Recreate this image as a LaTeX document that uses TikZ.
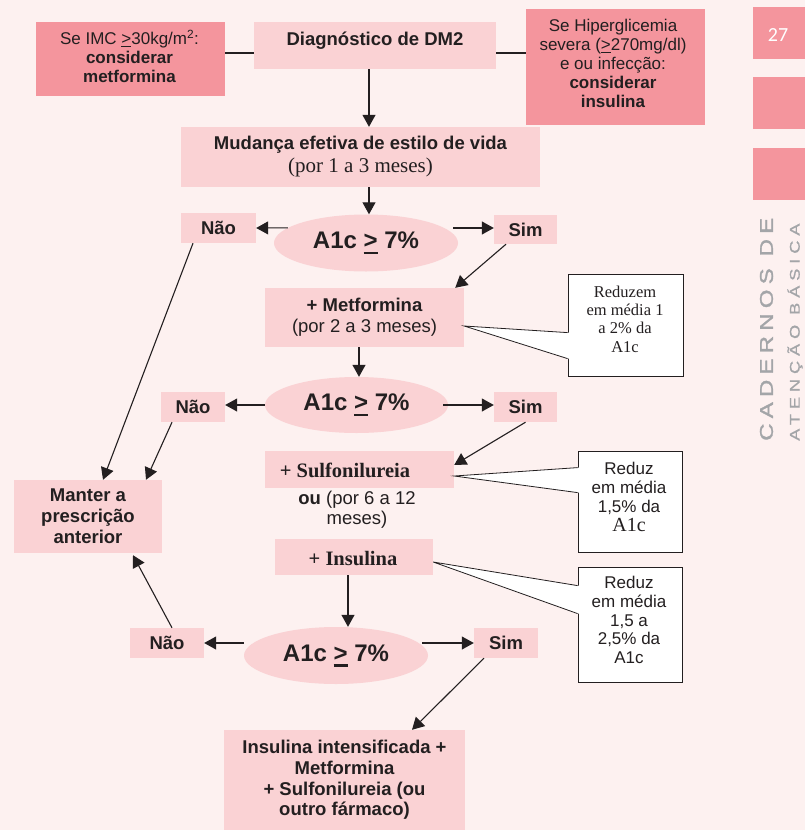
\documentclass[tikz,border=0pt]{standalone}
\usepackage{fontspec}
\setmainfont{Liberation Sans}
\newfontfamily\serifn{Liberation Serif}
\newfontfamily\sidefontA[LetterSpace=28,FakeStretch=1.3,FakeBold=1.5]{Liberation Sans}
\newfontfamily\sidefontB[LetterSpace=35,FakeStretch=1.3,FakeBold=1]{Liberation Sans}
\newfontfamily\numfont{Carlito}
\usetikzlibrary{arrows.meta,shapes.geometric,calc}
\definecolor{bgc}{HTML}{FDF1F0}
\definecolor{boxc}{HTML}{FAD2D4}
\definecolor{redc}{HTML}{F4959D}
\definecolor{ink}{HTML}{231F20}
\definecolor{sidegray}{HTML}{A3A5A8}
\newcommand\geu[2]{\setbox0=\hbox{>}\leavevmode\rlap{\rule[-#1]{\wd0}{#2}}>}
\begin{document}
\begin{tikzpicture}[x=1pt,y=-1pt,
  every node/.style={text=ink, inner sep=0pt, align=center},
  sz/.style 2 args={minimum width=#1, minimum height=#2},
  sansb/.style={font=\fontsize{18.5}{21}\selectfont\bfseries},
  pbox/.style={fill=boxc, sansb},
  redbox/.style={fill=redc},
  redtext/.style={font=\fontsize{17}{18.8}\selectfont},
  serb/.style={font=\serifn\fontsize{20.5}{23}\selectfont\bfseries},
  decision/.style={ellipse, fill=boxc, font=\fontsize{24}{28}\selectfont\bfseries},
  callout/.style={draw=ink, fill=white, line width=0.8pt},
  calline/.style={draw=ink, line width=0.8pt},
  conn/.style={draw=ink, line width=1.1pt},
  arr/.style={conn, -{Triangle[length=12pt,width=13pt]}},
  sidebox/.style={fill=redc, minimum width=52, minimum height=52}
]
\fill[bgc] (0,0) rectangle (805,830);
\useasboundingbox (0,0) rectangle (805,830);

% side bar
\node[sidebox] (s1) at (779,33) {};
\node[sidebox] (s2) at (779,103) {};
\node[sidebox] (s3) at (779,174) {};
\node[text=white, font=\numfont\fontsize{20}{20}\selectfont] (pg) at (778,35) {27};
\node[rotate=90, anchor=west, text=sidegray, font=\sidefontA\fontsize{18.5}{18}\selectfont] (cad) at (766.5,441) {CADERNOS DE};
\node[rotate=90, anchor=west, text=sidegray, font=\sidefontB\fontsize{14}{14}\selectfont] (ab) at (795,441) {ATENÇÃO BÁSICA};

% top row
\node[redbox, sz={189}{74}] (imc) at (130.5,59) {};
\node[redtext] (imct) at (129.5,56) {Se IMC \geu{2.5pt}{1pt}30kg/m\textsuperscript{2}:\\\textbf{considerar}\\\textbf{metformina}};
\node[pbox, sz={242}{47}] (diag) at (375,45.5) {};
\node[sansb] (diagt) at (375,41) {Diagnóstico de DM2};
\node[redbox, sz={179}{116}] (hiper) at (615.5,67) {};
\node[redtext] (hipert) at (613,63.5) {Se Hiperglicemia\\severa (\geu{2.5pt}{1pt}270mg/dl)\\e ou infecção:\\\textbf{considerar}\\\textbf{insulina}};
\coordinate (imcE) at ([yshift=6pt]imc.east);
\draw[conn] (imcE) -- (diag.west |- imcE);
\draw[conn] (diag.east |- imcE) -- (hiper.west |- imcE);

% lifestyle
\node[pbox, sz={359}{60}, font=\fontsize{18.5}{23}\selectfont\bfseries] (muda) at (360.5,157) {Mudança efetiva de estilo de vida\\{\serifn\mdseries\fontsize{21}{23}\selectfont (por 1 a 3 meses)}};
\draw[arr] ([xshift=-6pt]diag.south) -- ([xshift=-6pt]diag.south |- muda.north);

% decision 1
\node[decision, sz={184}{57}] (e1) at (366,243) {A1c \geu{5.5pt}{2.5pt} 7\%};
\draw[arr] ([xshift=8.5pt]muda.south) -- ([xshift=8.5pt]muda.south |- e1.north);
\node[pbox, sz={75}{30}] (nao1) at (218.5,228) {Não};
\node[pbox, sz={63}{29}] (sim1) at (525.5,229.5) {Sim};
\draw[arr] (e1.169) -- (nao1.east);
\draw[arr] ([xshift=-5pt]e1.east |- nao1.east) -- (sim1.west |- nao1.east);

% metformina
\node[pbox, sz={199}{59}] (met) at (364.5,317.5) {+ Metformina\\\mdseries(por 2 a 3 meses)};
\draw[arr] ([xshift=-19.5pt]sim1.south) -- ([xshift=-9pt]met.north east);
\node[callout, sz={115}{102}] (c1) at (625.5,325) {};
\node[font=\serifn\fontsize{16.5}{18.3}\selectfont] (c1t) at (625,319) {Reduzem\\em média 1\\a 2\% da\\A1c};
\coordinate (t1) at ([yshift=-8.5pt]met.east);
\fill[white] (t1) -- ($(c1.north west)+(0,59)$) -- ($(c1.north west)+(1.5,59)$) -- ($(c1.north west)+(1.5,85)$) -- ($(c1.north west)+(0,85)$) -- cycle;
\draw[calline] ($(c1.north west)+(0,59)$) -- (t1) -- ($(c1.north west)+(0,85)$);

% decision 2
\node[decision, sz={183}{56}] (e2) at (356.5,405) {A1c \geu{5.5pt}{2.5pt} 7\%};
\draw[arr] ([xshift=-5.5pt]met.south) -- ([xshift=-5.5pt]met.south |- e2.north);
\node[pbox, sz={64}{30}] (nao2) at (193,407) {Não};
\node[pbox, sz={63}{30}] (sim2) at (525.5,407) {Sim};
\draw[arr] (e2.west) -- (nao2.east |- e2.west);
\draw[arr] ([xshift=-5pt]e2.east) -- (sim2.west |- e2.east);

% sulfonilureia / insulina
\node[pbox, sz={189}{37}] (sulf) at (359.5,469.5) {};
\node[serb] (sulft) at (345,470) {+ Sulfonilureia};
\draw[arr] (sim2.south) -- ([yshift=4.5pt]sulf.east);
\node[font=\fontsize{18.5}{20}\selectfont] (ou) at (357,509.5) {\textbf{ou} (por 6 a 12\\meses)};
\node[pbox, sz={158}{36}] (ins) at (354,557) {};
\node[serb] (inst) at (353,558.5) {+ Insulina};

\node[callout, sz={104}{101}] (c2) at (630,501.5) {};
\node[font=\fontsize{17}{19}\selectfont] (c2t) at (629,497) {Reduz\\em média\\1,5\% da\\{\serifn\fontsize{20}{21}\selectfont A1c}};
\coordinate (t2) at ([yshift=-6.5pt]sulf.east);
\fill[white] (t2) -- ($(c2.north west)+(0,17)$) -- ($(c2.north west)+(1.5,17)$) -- ($(c2.north west)+(1.5,42)$) -- ($(c2.north west)+(0,42)$) -- cycle;
\draw[calline] ($(c2.north west)+(0,17)$) -- (t2) -- ($(c2.north west)+(0,42)$);

\node[callout, sz={104}{115}] (c3) at (630,624.5) {};
\node[font=\fontsize{17}{18.8}\selectfont] (c3t) at (629,620) {Reduz\\em média\\1,5 a\\2,5\% da\\A1c};
\coordinate (t3) at ([yshift=-5pt]ins.east);
\fill[white] (t3) -- ($(c3.north west)+(0,19)$) -- ($(c3.north west)+(1.5,19)$) -- ($(c3.north west)+(1.5,47)$) -- ($(c3.north west)+(0,47)$) -- cycle;
\draw[calline] ($(c3.north west)+(0,19)$) -- (t3) -- ($(c3.north west)+(0,47)$);

% decision 3
\node[decision, sz={184}{57}] (e3) at (336,655.5) {A1c \geu{5.5pt}{2.5pt} 7\%};
\draw[arr] ([xshift=-6pt]ins.south) -- ([xshift=-6pt]ins.south |- e3.north);
\node[pbox, sz={74}{30}] (nao3) at (167,643) {Não};
\node[pbox, sz={64}{30}] (sim3) at (506,643) {Sim};
\draw[arr] (e3.west |- nao3.east) -- (nao3.east);
\draw[arr] ([xshift=-6pt]e3.east |- sim3.west) -- (sim3.west);

% final
\node[pbox, sz={241}{100}, font=\fontsize{18.5}{20.7}\selectfont\bfseries] (fin) at (344.5,780) {Insulina intensificada +\\Metformina\\+ Sulfonilureia (ou\\outro fármaco)};
\draw[arr] ([xshift=-22pt]sim3.south) -- ([xshift=67.5pt]fin.north);

% manter
\node[pbox, sz={148}{73}] (manter) at (88,516.5) {Manter a\\prescrição\\anterior};
\draw[arr] ([xshift=-25.5pt]nao1.south) -- ([xshift=15pt]manter.north);
\draw[arr] ([xshift=-21pt]nao2.south) -- ([xshift=58pt]manter.north);
\draw[arr] ([xshift=5pt]nao3.north) -- ([xshift=45pt,yshift=-2pt]manter.south);
\end{tikzpicture}
\end{document}
